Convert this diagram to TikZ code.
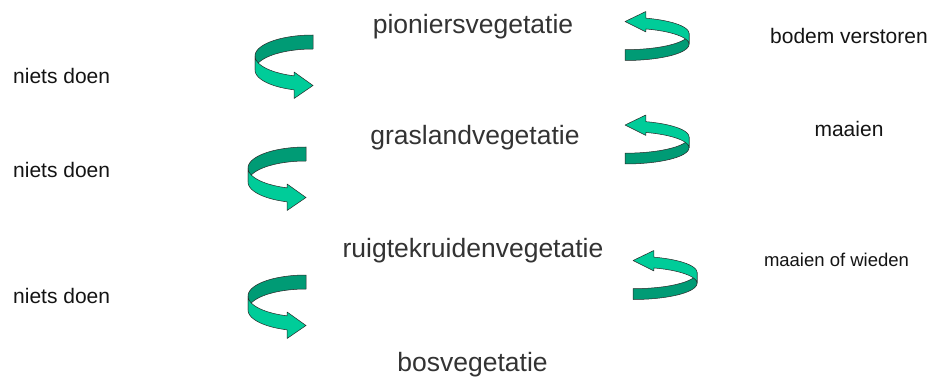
\documentclass[tikz,border=0pt]{standalone}
\usepackage{fontspec}
\setmainfont{Liberation Sans}
\definecolor{frontc}{RGB}{0,204,153}
\definecolor{backc}{RGB}{0,155,117}
\definecolor{labgray}{RGB}{51,51,51}
\definecolor{edgec}{RGB}{40,40,40}
\tikzset{
  curvarr/.pic={
    \filldraw[fill=backc, draw=edgec, line width=0.5pt, line join=round]
      plot[domain=90:180,samples=40] ({58+58*cos(\x)},{21-21*sin(\x)})
      -- plot[domain=180:90,samples=40] ({58+58*cos(\x)},{35-21*sin(\x)}) -- cycle;
    \filldraw[fill=frontc, draw=edgec, line width=0.5pt, line join=round]
      plot[domain=180:251,samples=40] ({58+58*cos(\x)},{21-21*sin(\x)})
      -- (39.1,37) -- (58,50.5) -- (39.1,63.5)
      -- plot[domain=251:180,samples=40] ({58+58*cos(\x)},{35-21*sin(\x)}) -- cycle;
  },
  mainlab/.style={font=\fontsize{26.5}{30}\selectfont, text=labgray, inner sep=0pt, anchor=base},
  smalllab/.style={font=\fontsize{21}{24}\selectfont, text=black!92, inner sep=0pt, anchor=base west},
  rightarr/.style={xscale=-1.103, yscale=-0.772}
}
\begin{document}
\begin{tikzpicture}[x=1pt,y=-1pt]
  \useasboundingbox (0,0) rectangle (938,385);
  \fill[white] (0,0) rectangle (938,385);
  % main labels
  \node[mainlab] (pion) at (473,33.3) {pioniersvegetatie};
  \node[mainlab] (gras) at (475,145) {graslandvegetatie};
  \node[mainlab] (ruig) at (473,258) {ruigtekruidenvegetatie};
  \node[mainlab] (bos) at (472.5,371.7) {bosvegetatie};
  % side labels
  \node[smalllab] (nd1) at (13,83.3) {niets doen};
  \node[smalllab] (nd2) at (13,178) {niets doen};
  \node[smalllab] (nd3) at (13,303) {niets doen};
  \node[smalllab] (bv) at (770,43.3) {bodem verstoren};
  \node[smalllab,anchor=base] (ma) at (849,137) {maaien};
  \node[smalllab,anchor=base,font=\fontsize{18.5}{22}\selectfont] (mw) at (836.5,266) {maaien of wieden};
  % curved arrows (left: succession)
  \pic (a1) at (255,35) {curvarr};
  \pic (a2) at (248,147) {curvarr};
  \pic (a3) at (248,275) {curvarr};
  % curved arrows (right: management)
  \pic[rightarr] (b1) at (689,60.5) {curvarr};
  \pic[rightarr] (b2) at (689,164) {curvarr};
  \pic[rightarr] (b3) at (697,299.5) {curvarr};
\end{tikzpicture}
\end{document}
